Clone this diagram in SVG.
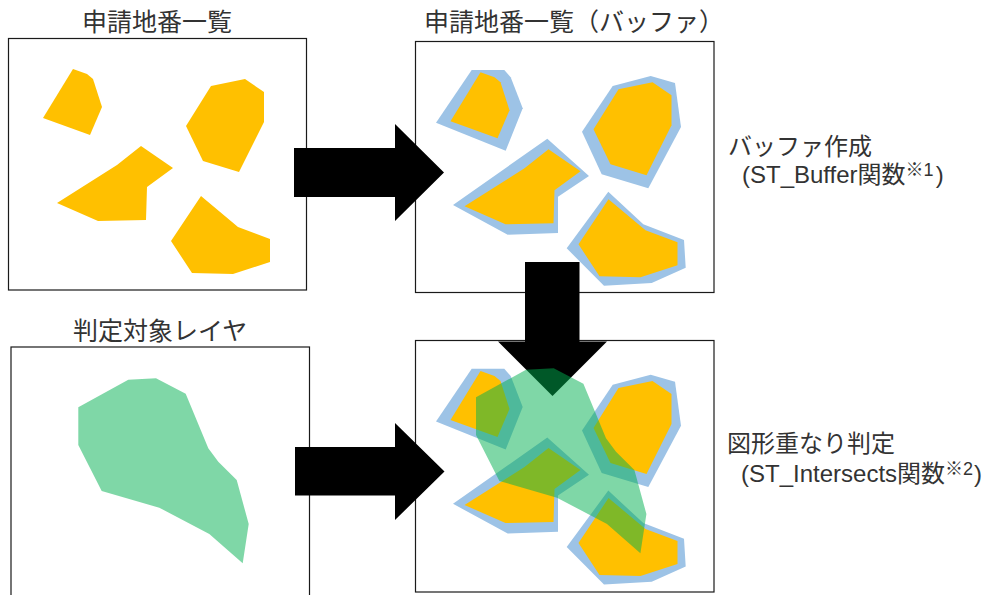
<svg xmlns="http://www.w3.org/2000/svg" xmlns:xlink="http://www.w3.org/1999/xlink" width="986" height="595" viewBox="0 0 986 595">
<style>
.panel{fill:#fff;stroke:#1a1a1a;stroke-width:1.2}
.or{fill:#FFC000}
.bl{fill:#9DC3E6}
.gr{fill:#00B050;fill-opacity:.5}
.arrow{fill:#000}
text{font-family:"Liberation Sans","Noto Sans CJK JP",sans-serif;font-size:24px;font-weight:400;fill:#333}
.title{font-size:25px}
.sup{font-size:18px}
</style>
<defs>
<g id="orange">
<polygon class="or" points="73,69 87,74 93,79 102,107 90,135 43,118"/>
<polygon class="or" points="211,86 245,79 264,92 264,122 239,172 203,161 186,126"/>
<polygon class="or" points="141,146 173,168 147,187 146,220 98,221 57,203 117,165"/>
<polygon class="or" points="201,196 238,227 270,239 270,262 233,274 192,273 171,241"/>
</g>
<g id="blue">
<polygon class="bl" points="471.7,70 504.3,70 510.7,77.3 522.7,108.3 505.7,150.7 436,122.7"/>
<polygon class="bl" points="612.7,86 650.7,76 675,83 681,127 648.3,188.3 601.7,174.3 582,131.7"/>
<polygon class="bl" points="547.3,138.7 589,176 558,196.7 558,233 507.7,234.7 453,205"/>
<polygon class="bl" points="608.3,191.7 643.3,224.3 684,240 685.7,267.7 651.7,283 604,285.7 566.7,248.3"/>
</g>
<polygon id="green" class="gr" points="78.3,407.3 128.3,379.7 156,378.3 185.7,393.7 208.3,448.3 218.3,461.7 236.7,480 248.7,524 242.7,563.3 209.3,534 159.3,507.7 101.7,491 78.3,445"/>
</defs>
<g id="panel-apply">
<rect class="panel" x="8.5" y="38.5" width="298" height="251.5"/>
<use xlink:href="#orange"/>
<text class="title" x="82" y="31">申請地番一覧</text>
</g>
<g id="panel-buffer">
<rect class="panel" x="415.5" y="41.5" width="298.5" height="251"/>
<use xlink:href="#blue"/>
<use xlink:href="#orange" transform="translate(407.5 3.3)"/>
<text class="title" x="424" y="31">申請地番一覧（バッファ）</text>
</g>
<g id="panel-layer">
<rect class="panel" x="11" y="347" width="298.5" height="260"/>
<use xlink:href="#green"/>
<text class="title" x="73" y="340">判定対象レイヤ</text>
</g>
<g id="panel-overlap">
<rect class="panel" x="415.5" y="340.5" width="298.5" height="251.5"/>
<use xlink:href="#blue" transform="translate(0 298.8)"/>
<use xlink:href="#orange" transform="translate(407.5 302)"/>
</g>
<g id="connectors">
<polygon class="arrow" points="294,148 395,148 395,124 444,172.5 395,221 395,197 294,197"/>
<polygon class="arrow" points="295,447 395,447 395,423 444.5,471.5 395,520 395,495.5 295,495.5"/>
<polygon class="arrow" points="525,262 579.5,262 579.5,341.5 607,341.5 552.5,396 498,341.5 525,341.5"/>
</g>
<g id="overlap-green"><use xlink:href="#green" transform="translate(397.7 -10)"/></g>
<g id="note-buffer">
<text x="728" y="155">バッファ作成</text>
<text x="742" y="183">(ST_Buffer関数<tspan class="sup" dy="-7">※1</tspan><tspan dy="7" dx="2">)</tspan></text>
</g>
<g id="note-intersects">
<text x="727" y="452">図形重なり判定</text>
<text x="741" y="482">(ST_Intersects関数<tspan class="sup" dy="-7">※2</tspan><tspan dy="7" dx="1">)</tspan></text>
</g>
</svg>
